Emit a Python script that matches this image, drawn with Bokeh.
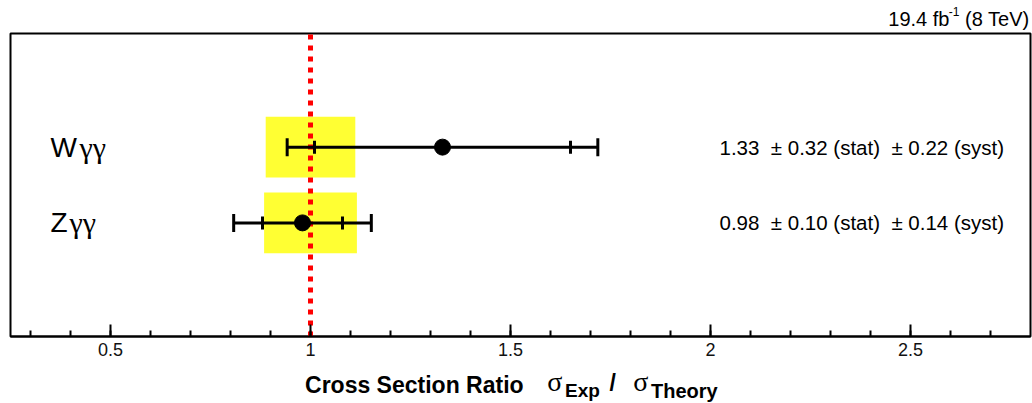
from bokeh.plotting import figure
from bokeh.layouts import column
from bokeh.models import ColumnDataSource, Range1d, FixedTicker, CustomJSTickFormatter
from bokeh.core.properties import value
from bokeh.embed import file_html
from bokeh.resources import INLINE
import math

# ---- data ----
processes = ["Wγγ", "Zγγ"]
ratio = [1.33, 0.98]
stat = [0.32, 0.10]
syst = [0.22, 0.14]
theory_unc = [0.112, 0.116]
rows = [2.5, 1.5]
x_ticks = [0.5, 1.0, 1.5, 2.0, 2.5]
x_minor = [0.3, 0.4, 0.5, 0.6, 0.7, 0.8, 0.9, 1.0, 1.1, 1.2, 1.3, 1.4, 1.5, 1.6,
           1.7, 1.8, 1.9, 2.0, 2.1, 2.2, 2.3, 2.4, 2.5, 2.6, 2.7]
lumi_text = ["19.4 fb", "-1", "(8 TeV)"]
title_parts = ["Cross Section Ratio", "σ", "Exp", "/", "σ", "Theory"]

# ---- derived ----
total = [math.sqrt(a * a + b * b) for a, b in zip(stat, syst)]
NB = "\u00a0"
value_texts = [f"{r:.2f}{NB}{NB}±{NB}{st:.2f}{NB}(stat){NB}{NB}±{NB}{sy:.2f}{NB}(syst)"
               for r, st, sy in zip(ratio, stat, syst)]

src = ColumnDataSource(dict(
    y=rows, r=ratio,
    th_lo=[1 - t for t in theory_unc], th_hi=[1 + t for t in theory_unc],
    th_b=[y - 0.4 for y in rows], th_t=[y + 0.4 for y in rows],
    tot_lo=[r - t for r, t in zip(ratio, total)], tot_hi=[r + t for r, t in zip(ratio, total)],
    st_lo=[r - s for r, s in zip(ratio, stat)], st_hi=[r + s for r, s in zip(ratio, stat)],
    letter=[p[0] for p in processes], rest=[p[1:] for p in processes],
    rest_off=[{"W": 29, "Z": 19}.get(p[0], 24) for p in processes],
    label_x=[0.35] * len(processes),
    vtext=value_texts, vtext_x=[2.0225] * len(processes),
))

W = 1032
X0, X1 = 0.25, 2.8


def strip(h, y_bottom, y_top):
    f = figure(width=W, height=h, x_range=Range1d(0, W), y_range=Range1d(y_bottom, y_top),
               output_backend="svg", toolbar_location=None,
               x_axis_location=None, y_axis_location=None, min_border=0,
               min_border_left=0, min_border_right=0, min_border_top=0, min_border_bottom=0)
    f.grid.visible = False
    f.outline_line_color = None
    return f


# ---- top strip (luminosity label) ----
top = strip(32, 32, 0)
lumi_x = [950, 960, 1031]
lumi_y = [18, 11, 18]
lumi_size = ["20px", "12px", "20px"]
for t, x, y, s in zip(lumi_text, lumi_x, lumi_y, lumi_size):
    top.text(x=[x], y=[y], text=[t], text_align="right", text_baseline="middle",
             text_font=value("Liberation Sans"), text_font_size=s, text_color="black")

# ---- main plot ----
p = figure(width=W, height=332, x_range=Range1d(X0, X1), y_range=Range1d(0, 4),
           output_backend="svg", toolbar_location=None, y_axis_location=None,
           min_border_left=10, min_border_right=2, min_border_top=1, min_border_bottom=28)
p.grid.visible = False
p.outline_line_color = "black"
p.outline_line_width = 2
p.background_fill_color = "white"
p.border_fill_color = "white"

ax = p.xaxis[0]
ax.ticker = FixedTicker(ticks=x_ticks, minor_ticks=x_minor)
ax.formatter = CustomJSTickFormatter(code="return tick.toString();")
ax.major_tick_in = 12
ax.major_tick_out = 0
ax.minor_tick_in = 6
ax.minor_tick_out = 0
ax.axis_line_width = 2
ax.major_tick_line_width = 2
ax.minor_tick_line_width = 2
ax.major_label_text_font = "Liberation Sans"
ax.major_label_text_font_size = "18px"
ax.major_label_text_color = "#111111"
ax.major_label_standoff = 6

# theory bands
p.quad(left="th_lo", right="th_hi", bottom="th_b", top="th_t", source=src,
       fill_color="#ffff33", line_color=None)
# reference line at ratio 1
p.segment(x0=[1.0], y0=[0], x1=[1.0], y1=[4], line_color="#ff0000", line_width=5,
          line_dash="5 6")
# error bars
p.segment(x0="tot_lo", y0="y", x1="tot_hi", y1="y", source=src, line_color="black", line_width=3)
for col, sz in (("tot_lo", 18), ("tot_hi", 18), ("st_lo", 13), ("st_hi", 13)):
    p.scatter(x=col, y="y", source=src, marker="dash", angle=math.pi / 2, size=sz,
              line_color="black", line_width=3)
p.scatter(x="r", y="y", source=src, marker="circle", size=16, fill_color="black", line_color="black")

# process labels
p.text(x="label_x", y="y", text="letter", source=src, text_font=value("Liberation Sans"),
       text_font_size="28px", text_baseline="middle", text_align="left", text_color="black")
p.text(x="label_x", y="y", text="rest", source=src, x_offset="rest_off",
       text_font=value("Liberation Serif"), text_font_size="30px", text_baseline="middle",
       text_align="left", text_color="black")
# value texts
p.text(x="vtext_x", y="y", text="vtext", source=src, text_font=value("Liberation Sans"),
       text_font_size="20.5px", text_baseline="middle", text_align="left", text_color="black")

# ---- bottom strip (axis title) ----
bot = strip(39, 403, 364)
title_x = [298, 543, 561, 606, 630, 648]
title_y = [384, 381, 390, 382, 381, 390]
title_font = ["Liberation Sans", "Liberation Serif", "Liberation Sans",
              "Liberation Sans", "Liberation Serif", "Liberation Sans"]
title_size = ["23px", "28px", "19px", "23px", "28px", "20px"]
title_style = ["bold", "normal", "bold", "bold", "normal", "bold"]
for t, x, y, f, s, st in zip(title_parts, title_x, title_y, title_font, title_size, title_style):
    bot.text(x=[x], y=[y], text=[t], text_align="left", text_baseline="middle",
             text_font=value(f), text_font_size=s, text_font_style=st, text_color="black")

layout = column(top, p, bot, spacing=0)
open("out.html", "w").write(file_html(layout, INLINE))
